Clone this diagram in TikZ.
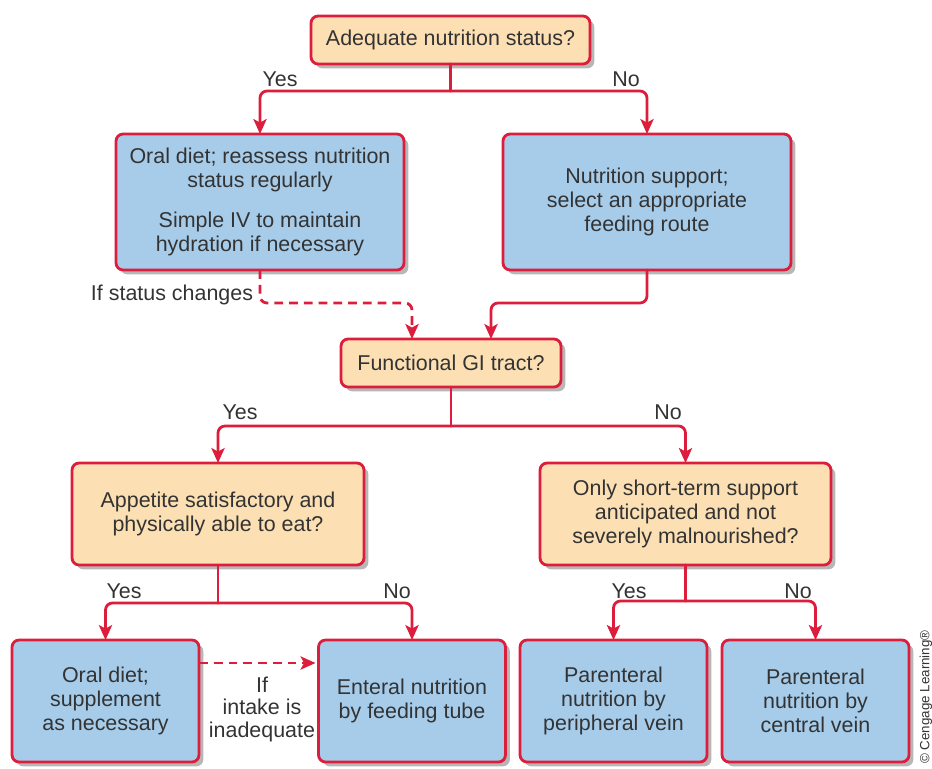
\documentclass[tikz,border=0pt]{standalone}
\usepackage{fontspec}
\setmainfont{Liberation Sans}
\usetikzlibrary{arrows.meta,shadows,calc}
\definecolor{boxred}{RGB}{220,30,60}
\definecolor{qorange}{RGB}{252,224,180}
\definecolor{ablue}{RGB}{166,204,234}
\definecolor{txtgray}{RGB}{51,51,51}
\begin{document}
\begin{tikzpicture}[x=0.02cm,y=-0.02cm,line join=round,line cap=round,>={Stealth[length=8.5pt,width=7.5pt,inset=2pt]},
		every node/.style={text=txtgray,font=\fontsize{12.2}{13.7}\selectfont},
		box/.style={draw=boxred,line width=1.6pt,rounded corners=4pt,inner sep=0pt,outer sep=0pt,align=center,
			drop shadow={shadow xshift=2.5pt,shadow yshift=-2.5pt,opacity=.4,fill=black!70}},
		quest/.style={box,fill=qorange},
		answer/.style={box,fill=ablue},
		link/.style={boxred,line width=1.6pt,rounded corners=4pt},
		maybe/.style={link,line cap=butt,dash pattern=on 5pt off 3.4pt}]
	\useasboundingbox (0,0) rectangle (932,768);
	% questions
	\node[quest,minimum width=5.58cm,minimum height=.96cm] (adequate) at (450.5,40) {Adequate nutrition status?};
	\node[quest,minimum width=4.4cm,minimum height=.96cm] (gitract) at (451,363) {Functional GI tract?};
	\node[quest,minimum width=5.84cm,minimum height=2.04cm] (appetite) at (218,514) {Appetite satisfactory and\\physically able to eat?};
	\node[quest,minimum width=5.82cm,minimum height=2.04cm] (shortterm) at (685.5,514) {Only short-term support\\anticipated and not\\severely malnourished?};
	% answers
	\node[answer,minimum width=5.76cm,minimum height=2.72cm] (oral) at (260,202) {Oral diet; reassess nutrition\\status regularly\\[9pt]Simple IV to maintain\\hydration if necessary};
	\node[answer,minimum width=5.76cm,minimum height=2.72cm] (support) at (647,202) {Nutrition support;\\select an appropriate\\feeding route};
	\node[answer,minimum width=3.74cm,minimum height=2.44cm] (oralsupp) at (105.5,701) {Oral diet;\\supplement\\as necessary};
	\node[answer,minimum width=3.74cm,minimum height=2.44cm] (enteral) at (412,701) {Enteral nutrition\\by feeding tube};
	\node[answer,minimum width=3.74cm,minimum height=2.44cm] (peripheral) at (613.5,701) {Parenteral\\nutrition by\\peripheral vein};
	\node[answer,minimum width=3.74cm,minimum height=2.44cm] (central) at (815.5,701) {Parenteral\\nutrition by\\central vein};
	% branches
	\coordinate (split1) at ($(adequate.south)+(0,27)$);
	\coordinate (split2) at ($(gitract.south)+(0,39)$);
	\coordinate (split3) at ($(appetite.south)+(0,38)$);
	\coordinate (split4) at ($(shortterm.south)+(0,36)$);
	\draw[link] (adequate.south) -- (split1);
	\draw[link,->] (split1) -| (oral.north);
	\draw[link,->] (split1) -| (support.north);
	\draw[maybe,->] (oral.south) -- ++(0,33) -| ($(gitract.north)+(-39,0)$);
	\draw[link,->] (support.south) -- ++(0,33) -| ($(gitract.north)+(40,0)$);
	\draw[link] (gitract.south) -- (split2);
	\draw[link,->] (split2) -| (appetite.north);
	\draw[link,->] (split2) -| (shortterm.north);
	\draw[link] (appetite.south) -- (split3);
	\draw[link,->] (split3) -| (oralsupp.north);
	\draw[link,->] (split3) -| (enteral.north);
	\draw[link] (shortterm.south) -- (split4);
	\draw[link,->] (split4) -| (peripheral.north);
	\draw[link,->] (split4) -| (central.north);
	\draw[maybe,->] ($(oralsupp.east)+(0,-38)$) -- ($(enteral.west)+(-3,-38)$);
	% labels
	\node (yes1) at (280,79) {Yes};
	\node (no1) at (626,79) {No};
	\node (ifchange) at (172,295) {If status changes};
	\node (yes2) at (240,412) {Yes};
	\node (no2) at (668,412) {No};
	\node (yes3) at (124,591) {Yes};
	\node (no3) at (397,591) {No};
	\node (yes4) at (629,591) {Yes};
	\node (no4) at (798,591) {No};
	\node[align=center,font=\fontsize{12.2}{12.8}\selectfont] (inadequate) at (262,709) {If\\intake is\\inadequate};
	\node[rotate=90,font=\fontsize{7.6}{8}\selectfont] (credit) at (926,697) {© Cengage Learning®};
\end{tikzpicture}
\end{document}
